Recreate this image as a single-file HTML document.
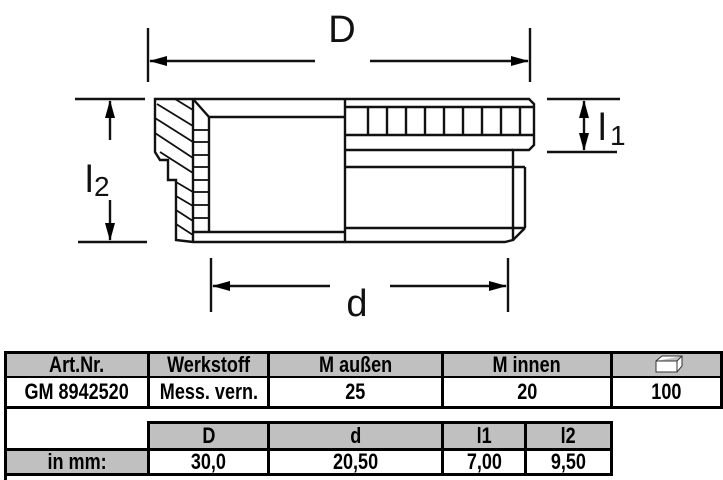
<!DOCTYPE html>
<html><head><meta charset="utf-8"><style>
html,body{margin:0;padding:0;background:#fff;width:723px;height:480px;overflow:hidden;position:relative;font-family:"Liberation Sans",Arial,sans-serif}
.c{position:absolute;box-sizing:border-box;font-weight:bold;font-size:22px;text-align:center;color:#000;display:flex;align-items:center;justify-content:center;white-space:nowrap}
.c span{display:inline-block;transform:scaleX(0.82)}
.g{background:#c0c0c0}
</style></head><body>
<svg width="723" height="340" style="position:absolute;left:0;top:0" xmlns="http://www.w3.org/2000/svg">
<defs><marker id="a" markerWidth="18" markerHeight="10" refX="17" refY="5" orient="auto" markerUnits="userSpaceOnUse"><path d="M0,0 L18,5 L0,10 z" fill="#000"/></marker></defs>
<g stroke="#111" stroke-width="2.4" fill="none">
<line x1="148" y1="28" x2="148" y2="82"/><line x1="530" y1="28" x2="530" y2="82"/>
<line x1="315" y1="61" x2="150" y2="61" marker-end="url(#a)"/>
<line x1="370" y1="61" x2="528" y2="61" marker-end="url(#a)"/>
<line x1="75" y1="99" x2="145" y2="99"/><line x1="78" y1="242" x2="147" y2="242"/>
<line x1="110" y1="140" x2="110" y2="101" marker-end="url(#a)"/>
<line x1="110" y1="200" x2="110" y2="240" marker-end="url(#a)"/>
<line x1="547" y1="99" x2="620" y2="99"/><line x1="547" y1="152" x2="617" y2="152"/>
<line x1="584" y1="125" x2="584" y2="101" marker-end="url(#a)"/>
<line x1="584" y1="125" x2="584" y2="150" marker-end="url(#a)"/>
<line x1="211" y1="258" x2="211" y2="312"/><line x1="508" y1="258" x2="508" y2="312"/>
<line x1="330" y1="286" x2="213" y2="286" marker-end="url(#a)"/>
<line x1="390" y1="286" x2="506" y2="286" marker-end="url(#a)"/>
<path d="M155,99 L529,99 L534,104 L534,145 L529,150 L513,150 L513,240 L505,242 L193,242 L176,240 L176,215 L176,180 L168,180 L168,160 L160,160 L155,152 Z"/>
<line x1="193" y1="99" x2="193" y2="242"/>
<line x1="209" y1="117" x2="209" y2="232"/>
<line x1="193" y1="99" x2="209" y2="117"/>
<line x1="209" y1="117" x2="345" y2="117"/>
<line x1="193" y1="232" x2="345" y2="232"/>
<line x1="345" y1="99" x2="345" y2="242"/>
<line x1="345" y1="107" x2="534" y2="107"/>
<line x1="345" y1="135" x2="534" y2="135"/>
<line x1="345" y1="150" x2="513" y2="150"/>
<line x1="345" y1="167" x2="525" y2="167"/>
<line x1="525" y1="167" x2="525" y2="228"/>
<line x1="345" y1="228" x2="525" y2="228"/>
<line x1="525" y1="228" x2="513" y2="240"/>
<line x1="368" y1="107" x2="368" y2="135"/><line x1="387" y1="107" x2="387" y2="135"/><line x1="406" y1="107" x2="406" y2="135"/><line x1="425" y1="107" x2="425" y2="135"/><line x1="444" y1="107" x2="444" y2="135"/><line x1="463" y1="107" x2="463" y2="135"/><line x1="482" y1="107" x2="482" y2="135"/><line x1="501" y1="107" x2="501" y2="135"/><line x1="520" y1="107" x2="520" y2="135"/>
<g stroke-width="1.8">
<line x1="193" y1="130" x2="209" y2="130"/><line x1="193" y1="142" x2="209" y2="142"/><line x1="193" y1="155" x2="209" y2="155"/><line x1="193" y1="167" x2="209" y2="167"/><line x1="193" y1="180" x2="209" y2="180"/><line x1="193" y1="192" x2="209" y2="192"/><line x1="193" y1="205" x2="209" y2="205"/><line x1="193" y1="218" x2="209" y2="218"/>
<line x1="175" y1="99" x2="193" y2="110"/><line x1="157" y1="104" x2="193" y2="126"/><line x1="155" y1="118" x2="193" y2="142"/><line x1="155" y1="133" x2="193" y2="158"/><line x1="160" y1="152" x2="193" y2="173"/><line x1="176" y1="182" x2="193" y2="192"/><line x1="176" y1="196" x2="193" y2="206"/><line x1="176" y1="210" x2="193" y2="221"/><line x1="176" y1="224" x2="193" y2="235"/>
</g>
</g>
<g font-family="Liberation Sans,Arial,sans-serif" fill="#111">
<text x="342" y="42" font-size="38" text-anchor="middle">D</text>
<text x="85" y="192" font-size="38">l</text><text x="94" y="196" font-size="28">2</text>
<text x="598" y="140" font-size="38">l</text><text x="610" y="145" font-size="28">1</text>
<text x="357" y="316" font-size="38" text-anchor="middle">d</text>
</g>
</svg>
<div style="position:absolute;left:4px;top:351px;width:3px;height:129px;background:#000"></div>
<div style="position:absolute;left:4px;top:351px;width:718px;height:3px;background:#000"></div>
<div style="position:absolute;left:4px;top:376px;width:718px;height:2px;background:#000"></div>
<div style="position:absolute;left:4px;top:406px;width:718px;height:3px;background:#000"></div>
<div class="c g" style="left:7px;top:354px;width:140px;height:22px"><span>Art.Nr.</span></div>
<div class="c g" style="left:150px;top:354px;width:117px;height:22px"><span>Werkstoff</span></div>
<div class="c g" style="left:270px;top:354px;width:171px;height:22px"><span>M außen</span></div>
<div class="c g" style="left:444px;top:354px;width:166px;height:22px"><span>M innen</span></div>
<div class="c g" style="left:613px;top:354px;width:107px;height:22px"><svg width="34" height="20"><path d="M6,6 L12,1 L32,1 L32,11 L27,17 L6,17 Z M6,6 L27,6 L32,1 M27,6 L27,17" fill="#fff" stroke="#333" stroke-width="1"/></svg></div>
<div class="c" style="left:7px;top:378px;width:140px;height:28px"><span>GM 8942520</span></div>
<div class="c" style="left:150px;top:378px;width:117px;height:28px"><span>Mess. vern.</span></div>
<div class="c" style="left:270px;top:378px;width:171px;height:28px"><span>25</span></div>
<div class="c" style="left:444px;top:378px;width:166px;height:28px"><span>20</span></div>
<div class="c" style="left:613px;top:378px;width:107px;height:28px"><span>100</span></div>
<div style="position:absolute;left:147px;top:351px;width:3px;height:58px;background:#000"></div>
<div style="position:absolute;left:267px;top:351px;width:3px;height:58px;background:#000"></div>
<div style="position:absolute;left:441px;top:351px;width:3px;height:58px;background:#000"></div>
<div style="position:absolute;left:610px;top:351px;width:3px;height:58px;background:#000"></div>
<div style="position:absolute;left:720px;top:351px;width:3px;height:58px;background:#000"></div>
<div style="position:absolute;left:147px;top:421px;width:466px;height:3px;background:#000"></div>
<div style="position:absolute;left:4px;top:448px;width:609px;height:3px;background:#000"></div>
<div style="position:absolute;left:4px;top:473px;width:609px;height:3px;background:#000"></div>
<div class="c g" style="left:150px;top:424px;width:117px;height:24px"><span>D</span></div>
<div class="c g" style="left:270px;top:424px;width:171px;height:24px"><span>d</span></div>
<div class="c g" style="left:444px;top:424px;width:80px;height:24px"><span>l1</span></div>
<div class="c g" style="left:527px;top:424px;width:83px;height:24px"><span>l2</span></div>
<div class="c g" style="left:7px;top:451px;width:140px;height:22px"><span>in mm:</span></div>
<div class="c" style="left:150px;top:451px;width:117px;height:22px"><span>30,0</span></div>
<div class="c" style="left:270px;top:451px;width:171px;height:22px"><span>20,50</span></div>
<div class="c" style="left:444px;top:451px;width:80px;height:22px"><span>7,00</span></div>
<div class="c" style="left:527px;top:451px;width:83px;height:22px"><span>9,50</span></div>
<div style="position:absolute;left:147px;top:421px;width:3px;height:55px;background:#000"></div>
<div style="position:absolute;left:267px;top:421px;width:3px;height:55px;background:#000"></div>
<div style="position:absolute;left:441px;top:421px;width:3px;height:55px;background:#000"></div>
<div style="position:absolute;left:524px;top:421px;width:3px;height:55px;background:#000"></div>
<div style="position:absolute;left:610px;top:421px;width:3px;height:55px;background:#000"></div>
</body></html>
